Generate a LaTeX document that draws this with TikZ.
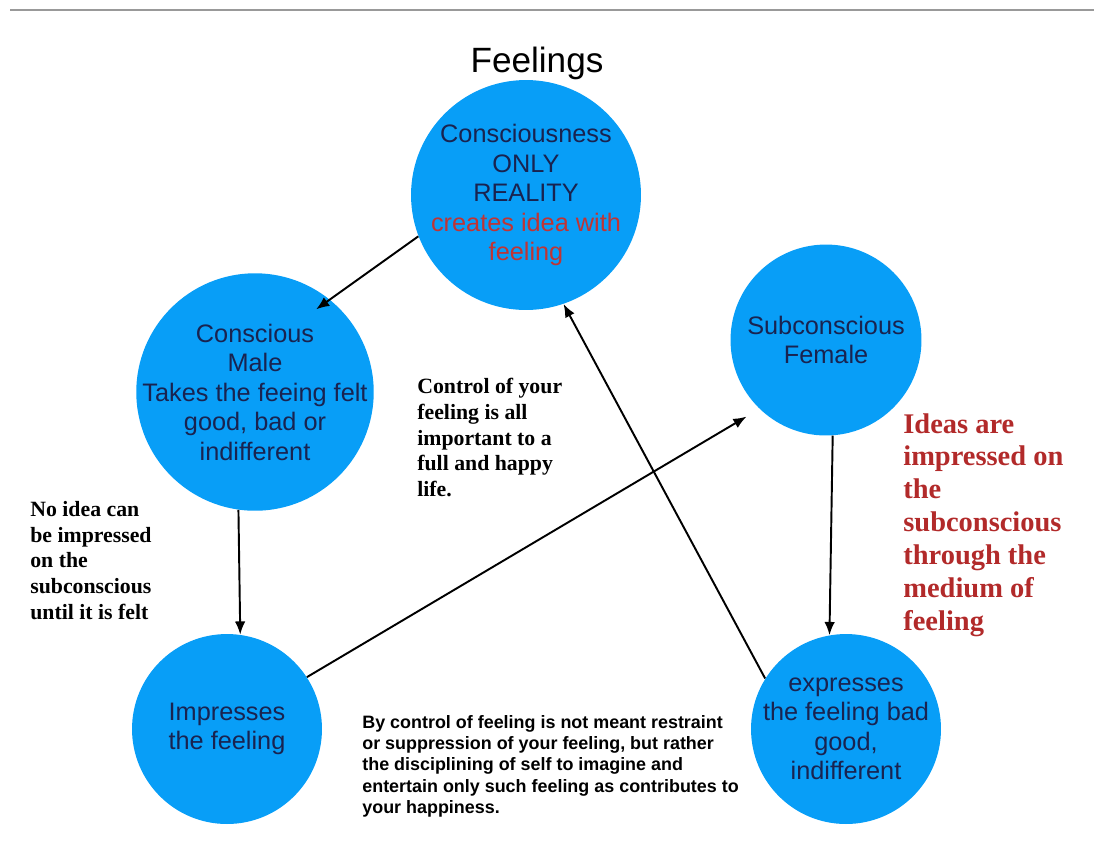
\documentclass[tikz,border=0pt]{standalone}
\usepackage{fontspec}
\setmainfont{Liberation Sans}
\newfontfamily\timesfont{Liberation Serif}
\usetikzlibrary{arrows.meta}

\definecolor{bubbleblue}{RGB}{8,158,247}
\definecolor{inkblue}{RGB}{25,35,80}
\definecolor{ideared}{RGB}{192,52,52}
\definecolor{notered}{RGB}{178,42,42}

\tikzset{
  bubble/.style={shape=circle, fill=bubbleblue, text=inkblue, align=center, inner sep=-40pt,
    font=\fontsize{14.4}{16.8}\selectfont},
  arr/.style={-{Latex[length=7.5pt,width=6pt]}, line width=1.1pt, black},
  note/.style={anchor=north west, inner sep=0pt, align=left, font=\timesfont\bfseries\fontsize{12.4}{14.6}\selectfont}
}

\begin{document}
\begin{tikzpicture}[x=0.02cm,y=-0.02cm]
        \useasboundingbox (0,0) rectangle (1094,850);
        \draw[line width=1.1pt, black!40] (10,10) -- (1094,10);

        \node[anchor=base, font=\fontsize{20}{24}\selectfont] (title) at (537,72) {Feelings};

        \node[bubble, minimum size=4.6cm] (cons) at (526,195) {Consciousness\\ONLY\\REALITY\\\textcolor{ideared}{creates idea with}\\\textcolor{ideared}{feeling}};
        \node[bubble, minimum size=4.75cm] (male) at (255,392) {Conscious\\Male\\Takes the feeing felt\\good, bad or\\indifferent};
        \node[bubble, minimum size=3.82cm] (fem) at (826,340) {Subconscious\\Female};
        \node[bubble, minimum size=3.8cm] (imp) at (227,729) {Impresses\\the feeling};
        \node[bubble, minimum size=3.8cm] (expr) at (846,729) {expresses\\the feeling bad\\good,\\indifferent};

        \node[note] (control) at (417,378) {Control of your\\feeling is all\\important to a\\full and happy\\life.};
        \node[note] (noidea) at (30,501) {No idea can\\be impressed\\on the\\subconscious\\until it is felt};
        \node[note, text=notered, font=\timesfont\bfseries\fontsize{16.2}{18.7}\selectfont] (medium) at (903,413) {Ideas are\\impressed on\\the\\subconscious\\through the\\medium of\\feeling};
        \node[anchor=north west, inner sep=0pt, align=left, font=\bfseries\fontsize{10.2}{12.1}\selectfont] (restraint) at (362,715) {By control of feeling is not meant restraint\\or suppression of your feeling, but rather\\the disciplining of self to imagine and\\entertain only such feeling as contributes to\\your happiness.};

        \path [arr, shorten >=-0.34cm] (cons.201) edge (male.51);
        \path [arr] (male.262) edge (imp.82);
        \path [arr, shorten >=0.3cm] (imp.33) edge (fem.226);
        \path [arr] (fem.274) edge (expr.100);
        \path [arr] (expr.148) edge (cons.289);
    \end{tikzpicture}
\end{document}
